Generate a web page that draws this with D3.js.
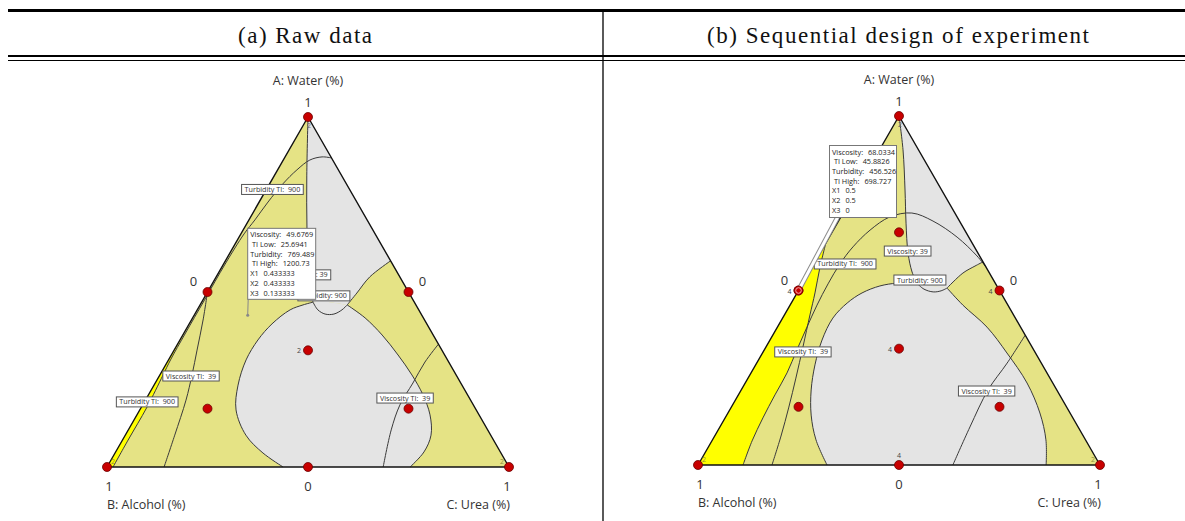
<!DOCTYPE html>
<html><head><meta charset="utf-8">
<script src="https://cdn.jsdelivr.net/npm/d3@7/dist/d3.min.js"></script>
<style>html,body{margin:0;padding:0;background:#fff;}svg{display:block;}</style>
</head><body>
<svg id="chart" width="1185" height="521"></svg>
<script>
// ================= DATA (ternary points are [A: Water, B: Alcohol, C: Urea]) =================
const panelTitles = ["(a) Raw data", "(b) Sequential design of experiment"];
const axisTitles = ["A: Water (%)", "B: Alcohol (%)", "C: Urea (%)"];
const vertexTicks = ["1", "1", "1"];
const edgeTicks = ["0", "0", "0"];

const designPoints = [[1,0,0],[0,1,0],[0,0,1],[0.5,0.5,0],[0.5,0,0.5],[0,0.5,0.5],
  [1/3,1/3,1/3],[2/3,1/6,1/6],[1/6,2/3,1/6],[1/6,1/6,2/3]];
const replicatesA = [["2",0],["2",1],["2",2],["2",6]];
const replicatesB = [["2",0],["2",1],["2",2],["4",3],["4",4],["4",5],["4",6]];

// ---- panel (a) contours ----
const visc39A_vert = [[1,0,0],[0.834,0.086,0.080],[0.677,0.164,0.159],[0.534,0.231,0.235],[0.471,0.252,0.277]];
const visc39A_loop = [[0.471,0.252,0.277],[0.449,0.251,0.300],[0.437,0.239,0.324],[0.437,0.217,0.346],[0.449,0.191,0.360],[0.463,0.171,0.366]];
const visc39A_out = [[0.463,0.171,0.366],[0.497,0.130,0.373],[0.543,0.075,0.382],[0.589,0,0.411]];
const turb900A_left = [[0,0.562,0.438],[0.04,0.592,0.368],[0.091,0.609,0.300],[0.163,0.598,0.240],[0.234,0.557,0.209],[0.306,0.501,0.193],[0.363,0.443,0.194],[0.409,0.385,0.206],[0.449,0.320,0.231],[0.463,0.281,0.256],[0.471,0.252,0.277]];
const turb900A_neck = [[0.471,0.252,0.277],[0.471,0.210,0.319],[0.463,0.171,0.366]];
const turb900A_right = [[0.463,0.171,0.366],[0.426,0.145,0.429],[0.377,0.127,0.496],[0.320,0.116,0.564],[0.263,0.110,0.627],[0.206,0.111,0.683],[0.149,0.122,0.729],[0.091,0.149,0.761],[0.043,0.190,0.767],[0,0.246,0.754]];
const turbTI900A = [[0.883,0,0.117],[0.886,0.022,0.092],[0.877,0.057,0.066],[0.849,0.103,0.048],[0.809,0.158,0.033],[0.757,0.221,0.022],[0.706,0.279,0.015],[0.666,0.326,0.008],[0.58,0.416,0.004],[0.477,0.519,0.004],[0.38,0.616,0.004],[0.306,0.689,0.005],[0.263,0.729,0.008],[0.171,0.815,0.014],[0.077,0.909,0.014],[0,0.985,0.015]];
const brightA = [[0.40,0.60,0],[0.306,0.689,0.005],[0.263,0.729,0.008],[0.171,0.815,0.014],[0.077,0.909,0.014],[0,0.985,0.015]];
const viscTI39A_left = [[0.5,0.5,0],[0.42,0.551,0.029],[0.334,0.609,0.057],[0.263,0.657,0.080],[0.191,0.708,0.101],[0.091,0.786,0.123],[0,0.858,0.142]];
const viscTI39A_right = [[0.351,0,0.649],[0.3,0.059,0.641],[0.24,0.119,0.641],[0.177,0.183,0.640],[0.106,0.240,0.654],[0,0.313,0.687]];
const labelsA = [["Turbidity TI:  900",0.793,0.192,0.015],["Viscosity: 39",0.549,0.227,0.224],["Turbidity: 900",0.489,0.216,0.295],
  ["Viscosity TI:  39",0.260,0.661,0.079],["Turbidity TI:  900",0.186,0.807,0.007],["Viscosity TI:  39",0.197,0.160,0.643]];
const tipAPoint = [0.433333,0.433333,0.133333];
const tipANames = ["Viscosity:"," TI Low:","Turbidity:"," TI High:","X1","X2","X3"];
const tipAValues = ["49.6769","25.6941","769.489","1200.73","0.433333","0.433333","0.133333"];

// ---- panel (b) contours ----
const visc39B_vert = [[1,0,0],[0.903,0.039,0.059],[0.788,0.091,0.121],[0.693,0.136,0.171],[0.607,0.174,0.219],[0.553,0.191,0.256],[0.521,0.195,0.284]];
const visc39B_loop = [[0.521,0.195,0.284],[0.504,0.186,0.310],[0.496,0.167,0.337],[0.499,0.146,0.355],[0.507,0.127,0.366]];
const visc39B_out = [[0.507,0.127,0.366],[0.550,0.066,0.384],[0.570,0.026,0.404],[0.582,0,0.418]];
const turb900B_left = [[0,0.679,0.321],[0.072,0.671,0.258],[0.143,0.647,0.210],[0.215,0.611,0.174],[0.287,0.566,0.148],[0.358,0.512,0.129],[0.421,0.454,0.125],[0.464,0.397,0.139],[0.493,0.346,0.162],[0.513,0.291,0.196],[0.521,0.244,0.234],[0.521,0.195,0.284]];
const turb900B_neck = [[0.521,0.195,0.284],[0.513,0.162,0.326],[0.507,0.127,0.366]];
const turb900B_right = [[0.507,0.127,0.366],[0.458,0.112,0.430],[0.395,0.083,0.521],[0.321,0.071,0.608],[0.235,0.064,0.701],[0.149,0.075,0.776],[0.072,0.099,0.830],[0,0.134,0.866]];
const turbTI900B = [[0.567,0,0.433],[0.599,0.007,0.395],[0.653,0.029,0.318],[0.699,0.066,0.235],[0.722,0.107,0.171],[0.711,0.167,0.122],[0.673,0.235,0.091],[0.625,0.302,0.073],[0.576,0.359,0.065],[0.519,0.417,0.064],[0.458,0.475,0.067],[0.395,0.531,0.073],[0.330,0.589,0.081],[0.264,0.647,0.090],[0.201,0.708,0.091],[0.135,0.771,0.094],[0.069,0.831,0.100],[0,0.888,0.112]];
const viscTI39B_left = [[0.636,0.364,0],[0.567,0.413,0.020],[0.493,0.463,0.045],[0.430,0.507,0.064],[0.338,0.570,0.092],[0.249,0.632,0.119],[0.166,0.691,0.143],[0.083,0.752,0.165],[0,0.816,0.184]];
const viscTI39B_right = [[0.372,0,0.628],[0.292,0.085,0.623],[0.215,0.171,0.614],[0.109,0.269,0.622],[0,0.366,0.634]];
const brightB = [[0.636,0.364,0],[0.567,0.413,0.020],[0.493,0.463,0.045],[0.430,0.507,0.064],[0.395,0.531,0.073],[0.330,0.589,0.081],[0.264,0.647,0.090],[0.201,0.708,0.091],[0.135,0.771,0.094],[0.069,0.831,0.100],[0,0.888,0.112]];
const labelsB = [["Viscosity: 39",0.613,0.172,0.215],["Turbidity: 900",0.530,0.183,0.287],["Turbidity TI:  900",0.576,0.346,0.078],
  ["Viscosity TI:  39",0.324,0.577,0.099],["Viscosity TI:  39",0.212,0.176,0.612]];
const tipBPoint = [0.5,0.5,0];
const tipBNames = ["Viscosity:"," TI Low:","Turbidity:"," TI High:","X1","X2","X3"];
const tipBValues = ["68.0334","45.8826","456.526","698.727","0.5","0.5","0"];

// ================= DRAWING =================
const svg = d3.select("#chart");
const SANS = "'Open Sans','Noto Sans',sans-serif";
const C_PALE = "#e5e385", C_GRAY = "#e4e4e4", C_BRIGHT = "#ffff00", C_LINE = "#3a3a3a";

// header table
svg.append("line").attr("x1",8).attr("x2",1185).attr("y1",10.5).attr("y2",10.5).attr("stroke","#000").attr("stroke-width",3);
svg.append("line").attr("x1",8).attr("x2",1185).attr("y1",56).attr("y2",56).attr("stroke","#000").attr("stroke-width",2);
svg.append("line").attr("x1",8).attr("x2",1185).attr("y1",60.5).attr("y2",60.5).attr("stroke","#000").attr("stroke-width",1);
svg.append("line").attr("x1",603).attr("x2",603).attr("y1",9).attr("y2",521).attr("stroke","#000").attr("stroke-width",1.3);
const titleX = [305, 898], titleW = [134, 382];
panelTitles.forEach((t,i)=>{
  svg.append("text").attr("x",titleX[i]).attr("y",43).attr("text-anchor","middle")
    .attr("font-family","'Liberation Serif','DejaVu Serif',serif").attr("font-size",23)
    .attr("textLength",titleW[i]).attr("lengthAdjust","spacing").attr("fill","#111").text(t);
});

const smooth = d3.line().curve(d3.curveCatmullRom.alpha(0.5));

function drawPanel(P, D){
  const g = svg.append("g");
  const x = d3.scaleLinear().domain([-1,1]).range([P.bx, P.cx]);
  const y = d3.scaleLinear().domain([0,1]).range([P.by, P.ay]);
  const proj = p => [x(p[2]-p[1]), y(p[0])];
  const pth = pts => smooth(pts.map(proj));
  const region = (pieces, extra=[]) => pieces.map((pc,i)=>{const s=pth(pc);return i?s.replace(/^M/,"L"):s;}).join("")
      + extra.map(p=>"L"+proj(p).join(",")).join("") + "Z";
  const tri = [[1,0,0],[0,1,0],[0,0,1]];
  const triPath = "M" + tri.map(p=>proj(p).join(",")).join("L") + "Z";

  g.append("path").attr("d",triPath).attr("fill",C_PALE);
  g.append("path").attr("d",region([D.vert, D.neck, D.out])).attr("fill",C_GRAY);
  g.append("path").attr("d",region([D.turbLeft, D.neck, D.turbRight])).attr("fill",C_GRAY);
  g.append("path").attr("d",region([D.bright],[[0,1,0]])).attr("fill",C_BRIGHT);

  [D.vert, D.loop, D.out, D.turbLeft, D.turbRight, D.turbTI, D.viscTIa, D.viscTIb].forEach(c=>{
    g.append("path").attr("d",pth(c)).attr("fill","none").attr("stroke",C_LINE).attr("stroke-width",1);
  });
  g.append("path").attr("d",triPath).attr("fill","none").attr("stroke","#111").attr("stroke-width",1.4).attr("stroke-linejoin","round");

  // contour labels
  D.labels.forEach(l=>{
    const [cx0,cy0] = proj([l[1],l[2],l[3]]);
    const t = g.append("text").attr("font-family",SANS).attr("font-size",7.2).attr("fill","#333")
      .style("white-space","pre").attr("text-anchor","middle").attr("x",cx0).attr("y",cy0+2.5).text(l[0]);
    const w = t.node().getComputedTextLength()+6;
    g.insert("rect", () => t.node()).attr("x",cx0-w/2).attr("y",cy0-5).attr("width",w).attr("height",10)
      .attr("fill","#fff").attr("stroke","#555").attr("stroke-width",1);
  });

  // design points
  designPoints.forEach(p=>{
    const [px,py] = proj(p);
    g.append("circle").attr("cx",px).attr("cy",py).attr("r",4.5).attr("fill","#c80000").attr("stroke","#6a0000").attr("stroke-width",0.8);
  });
  const off = {0:[1,11,"#666"],1:[6,-3,"#8f8f3a"],2:[-7,-3,"#8f8f3a"],3:[-9,3,"#444"],4:[-9,3,"#444"],5:[0,-7,"#444"],6:[-9,3,"#444"]};
  D.reps.forEach(r=>{
    const [px,py] = proj(designPoints[r[1]]); const o = off[r[1]];
    g.append("text").attr("x",px+o[0]).attr("y",py+o[1]).attr("text-anchor","middle").attr("font-family",SANS)
      .attr("font-size",7).attr("fill",o[2]).text(r[0]);
  });

  // axis texts
  const [Ax,Ay] = proj([1,0,0]), [Bx,By] = proj([0,1,0]), [Cx,Cy] = proj([0,0,1]);
  const [Lx,Ly] = proj([0.5,0.5,0]), [Rx,Ry] = proj([0.5,0,0.5]), [Mx,My] = proj([0,0.5,0.5]);
  const txt = (s,xx,yy,anchor,size)=>g.append("text").attr("x",xx).attr("y",yy).attr("text-anchor",anchor)
      .attr("font-family",SANS).attr("font-size",size).attr("fill","#333").text(s);
  txt(axisTitles[0],Ax,Ay-32,"middle",12.5);
  txt(vertexTicks[0],Ax,Ay-10,"middle",13);
  txt(edgeTicks[0],Lx-14,Ly-6,"middle",13);
  txt(edgeTicks[1],Rx+14,Ry-6,"middle",13);
  txt(vertexTicks[1],Bx+2,By+24,"middle",13);
  txt(edgeTicks[2],Mx,My+24,"middle",13);
  txt(vertexTicks[2],Cx-2,Cy+24,"middle",13);
  txt(axisTitles[1],Bx,By+42,"start",12.5);
  txt(axisTitles[2],Cx+1,Cy+42,"end",12.5);

  // tooltip
  const [tx,ty] = proj(D.tipPoint);
  const bx0 = tx + P.tip.dx, by0 = ty + P.tip.dy;
  if (P.tip.double){
    g.append("line").attr("x1",bx0+P.tip.lx).attr("y1",by0+P.tip.h).attr("x2",tx).attr("y2",ty).attr("stroke","#8a8a8a").attr("stroke-width",5);
    g.append("line").attr("x1",bx0+P.tip.lx).attr("y1",by0+P.tip.h).attr("x2",tx).attr("y2",ty).attr("stroke","#fff").attr("stroke-width",3);
    g.append("circle").attr("cx",tx).attr("cy",ty).attr("r",4.5).attr("fill","#c80000").attr("stroke","#6a0000").attr("stroke-width",0.8);
    g.append("circle").attr("cx",tx).attr("cy",ty).attr("r",2.8).attr("fill","none").attr("stroke","#f0b0b0").attr("stroke-width",1);
  } else {
    g.append("line").attr("x1",bx0+P.tip.lx).attr("y1",by0+P.tip.h).attr("x2",tx).attr("y2",ty).attr("stroke","#888").attr("stroke-width",1);
    g.append("circle").attr("cx",tx).attr("cy",ty).attr("r",1.5).attr("fill","#888");
  }
  g.append("rect").attr("x",bx0).attr("y",by0).attr("width",P.tip.w).attr("height",P.tip.h)
    .attr("fill","#fff").attr("stroke","#777").attr("stroke-width",1);
  D.tipNames.forEach((n,i)=>{
    const yy = by0 + 9 + i*9.7;
    const t = g.append("text").attr("x",bx0+2.5).attr("y",yy).attr("font-family",SANS).attr("font-size",7.3)
      .attr("fill","#222").style("white-space","pre").text(n);
    const w = t.node().getComputedTextLength();
    g.append("text").attr("x",bx0+2.5+w+5).attr("y",yy).attr("font-family",SANS).attr("font-size",7.3)
      .attr("fill","#222").text(D.tipValues[i]);
  });
}

drawPanel({ax:308, ay:117, bx:107, cx:509, by:467, tip:{dx:0, dy:-87, w:68, h:71, lx:0.5, double:false}},
  {vert:visc39A_vert, loop:visc39A_loop, out:visc39A_out, neck:turb900A_neck, turbLeft:turb900A_left, turbRight:turb900A_right,
   turbTI:turbTI900A, viscTIa:viscTI39A_left, viscTIb:viscTI39A_right, bright:brightA, labels:labelsA, reps:replicatesA,
   tipPoint:tipAPoint, tipNames:tipANames, tipValues:tipAValues});
drawPanel({ax:899, ay:116, bx:698, cx:1100, by:465, tip:{dx:31, dy:-145, w:67, h:72, lx:8, double:true}},
  {vert:visc39B_vert, loop:visc39B_loop, out:visc39B_out, neck:turb900B_neck, turbLeft:turb900B_left, turbRight:turb900B_right,
   turbTI:turbTI900B, viscTIa:viscTI39B_left, viscTIb:viscTI39B_right, bright:brightB, labels:labelsB, reps:replicatesB,
   tipPoint:tipBPoint, tipNames:tipBNames, tipValues:tipBValues});
</script>
</body></html>
